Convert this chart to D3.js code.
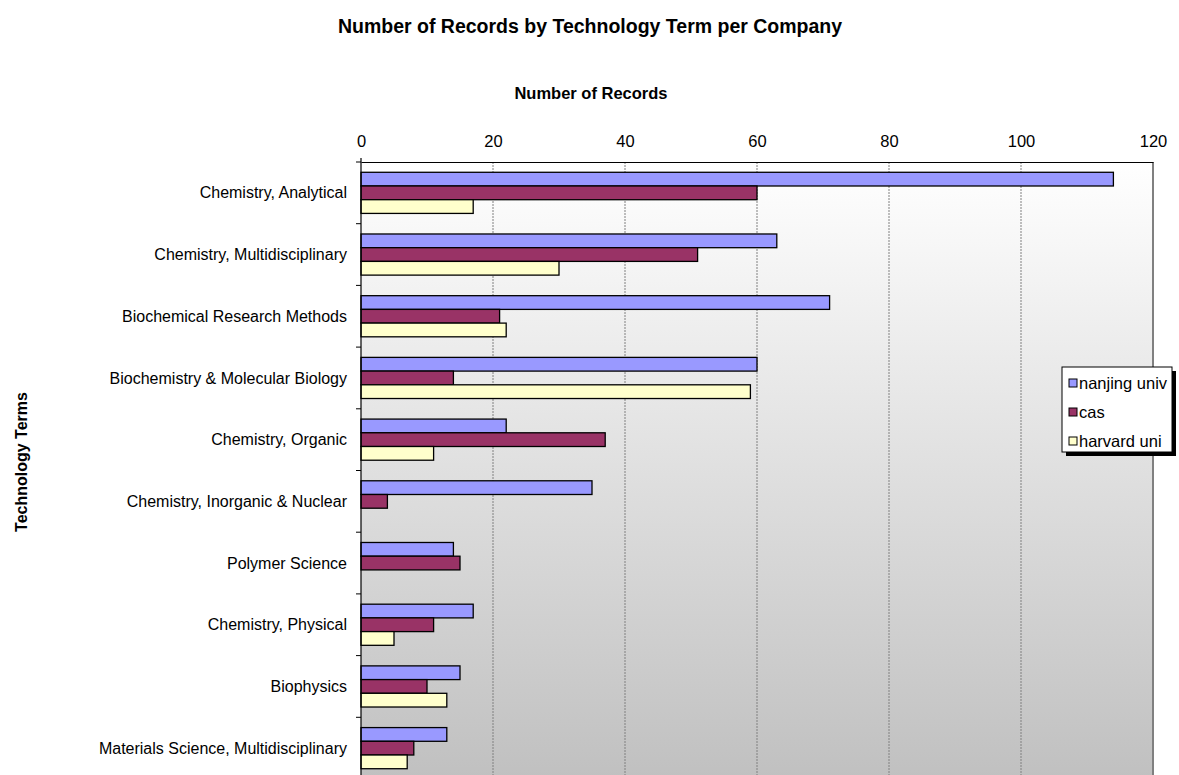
<!DOCTYPE html>
<html>
<head>
<meta charset="utf-8">
<script src="https://cdn.jsdelivr.net/npm/d3@7"></script>
<style>
  html, body { margin: 0; padding: 0; background: #ffffff; }
  svg { display: block; font-family: "Liberation Sans", Arial, sans-serif; }
</style>
</head>
<body>
<svg id="chart" width="1179" height="775"></svg>
<script>
// Technology terms (top to bottom)
const categories = [
  "Chemistry, Analytical",
  "Chemistry, Multidisciplinary",
  "Biochemical Research Methods",
  "Biochemistry & Molecular Biology",
  "Chemistry, Organic",
  "Chemistry, Inorganic & Nuclear",
  "Polymer Science",
  "Chemistry, Physical",
  "Biophysics",
  "Materials Science, Multidisciplinary"
];
const seriesNames = ["nanjing univ", "cas", "harvard uni"];
const nanjingValues = [114, 63, 71, 60, 22, 35, 14, 17, 15, 13];
const casValues     = [60, 51, 21, 14, 37, 4, 15, 11, 10, 8];
const harvardValues = [17, 30, 22, 59, 11, 0, 0, 5, 13, 7];
const seriesColors = ["#9999ff", "#993366", "#ffffcc"];
const xTicks = [0, 20, 40, 60, 80, 100, 120];

const seriesValues = [nanjingValues, casValues, harvardValues];
const rows = categories.map((c, i) => ({
  category: c,
  values: seriesNames.map((s, j) => ({ series: s, value: seriesValues[j][i], idx: j }))
}));

const svg = d3.select("#chart");
const plot = { left: 361, right: 1153, top: 162, bottom: 779 };

const x = d3.scaleLinear().domain([0, 120]).range([plot.left, plot.right]);
const y = d3.scaleBand().domain(categories).range([plot.top, plot.bottom])
  .paddingInner(1 / 3).paddingOuter(1 / 6);
const ySub = d3.scaleBand().domain(seriesNames).range([0, y.bandwidth()]);

// Plot background gradient
const defs = svg.append("defs");
const grad = defs.append("linearGradient").attr("id", "plotBg")
  .attr("x1", 0).attr("y1", 0).attr("x2", 0).attr("y2", 1);
grad.append("stop").attr("offset", "0%").attr("stop-color", "#ffffff");
grad.append("stop").attr("offset", "100%").attr("stop-color", "#c0c0c0");

svg.append("rect")
  .attr("x", plot.left).attr("y", plot.top)
  .attr("width", plot.right - plot.left).attr("height", plot.bottom - plot.top)
  .attr("fill", "url(#plotBg)");

// Vertical gridlines
svg.append("g").selectAll("line")
  .data(xTicks.filter(t => t > 0 && t < 120))
  .join("line")
  .attr("x1", d => x(d)).attr("x2", d => x(d))
  .attr("y1", plot.top).attr("y2", plot.bottom)
  .attr("stroke", "#808080").attr("stroke-width", 1)
  .attr("stroke-dasharray", "2,1");

// Right border of plot area
svg.append("line")
  .attr("x1", plot.right).attr("x2", plot.right)
  .attr("y1", plot.top).attr("y2", plot.bottom)
  .attr("stroke", "#808080").attr("stroke-width", 2);

// Bars
const groups = svg.append("g").selectAll("g")
  .data(rows).join("g")
  .attr("transform", d => `translate(0,${y(d.category)})`);
groups.selectAll("rect")
  .data(d => d.values.filter(v => v.value > 0))
  .join("rect")
  .attr("x", x(0))
  .attr("y", d => ySub(d.series))
  .attr("width", d => x(d.value) - x(0))
  .attr("height", ySub.bandwidth())
  .attr("fill", d => seriesColors[d.idx])
  .attr("stroke", "#000000").attr("stroke-width", 1.3);

// Top value axis
const xAxis = d3.axisTop(x).tickValues(xTicks).tickSize(0).tickPadding(15);
const gx = svg.append("g").attr("transform", `translate(0,${plot.top})`).call(xAxis);
gx.select(".domain").attr("stroke", "#000000").attr("stroke-width", 1);
gx.selectAll("text").attr("font-size", "16.5px").attr("fill", "#000000")
  .attr("font-family", "Liberation Sans, Arial, sans-serif");

// Left category axis with boundary ticks
svg.append("line")
  .attr("x1", plot.left).attr("x2", plot.left)
  .attr("y1", plot.top - 4).attr("y2", plot.bottom)
  .attr("stroke", "#000000").attr("stroke-width", 1.2);
const boundaries = categories.map(c => y(c) - y.step() * y.paddingOuter());
svg.append("g").selectAll("line")
  .data(boundaries)
  .join("line")
  .attr("x1", plot.left - 5).attr("x2", plot.left)
  .attr("y1", d => d).attr("y2", d => d)
  .attr("stroke", "#000000").attr("stroke-width", 1);

svg.append("g").selectAll("text")
  .data(categories)
  .join("text")
  .attr("x", plot.left - 14)
  .attr("y", d => y(d) + y.bandwidth() / 2)
  .attr("dy", "0.35em")
  .attr("text-anchor", "end")
  .attr("font-size", "16px")
  .attr("fill", "#000000")
  .text(d => d);

// Titles
svg.append("text")
  .attr("x", 590).attr("y", 33)
  .attr("text-anchor", "middle")
  .attr("font-size", "19.5px").attr("font-weight", "bold")
  .text("Number of Records by Technology Term per Company");

svg.append("text")
  .attr("x", 591).attr("y", 99)
  .attr("text-anchor", "middle")
  .attr("font-size", "16.5px").attr("font-weight", "bold")
  .text("Number of Records");

svg.append("text")
  .attr("transform", "translate(27,462) rotate(-90)")
  .attr("text-anchor", "middle")
  .attr("font-size", "16px").attr("font-weight", "bold")
  .text("Technology Terms");

// Legend with drop shadow
const legend = { x: 1062, y: 367, w: 110, h: 85 };
svg.append("rect")
  .attr("x", legend.x + 4).attr("y", legend.y + 4)
  .attr("width", legend.w).attr("height", legend.h)
  .attr("fill", "#000000");
svg.append("rect")
  .attr("x", legend.x).attr("y", legend.y)
  .attr("width", legend.w).attr("height", legend.h)
  .attr("fill", "#ffffff").attr("stroke", "#000000").attr("stroke-width", 1);
const items = svg.append("g").selectAll("g")
  .data(seriesNames).join("g")
  .attr("transform", (d, i) => `translate(${legend.x + 7},${legend.y + 16 + i * 29})`);
items.append("rect")
  .attr("x", 0).attr("y", -4).attr("width", 8).attr("height", 8)
  .attr("fill", (d, i) => seriesColors[i])
  .attr("stroke", "#000000").attr("stroke-width", 1);
items.append("text")
  .attr("x", 10).attr("y", 0).attr("dy", "0.35em")
  .attr("font-size", "16.5px")
  .text(d => d);
</script>
</body>
</html>
